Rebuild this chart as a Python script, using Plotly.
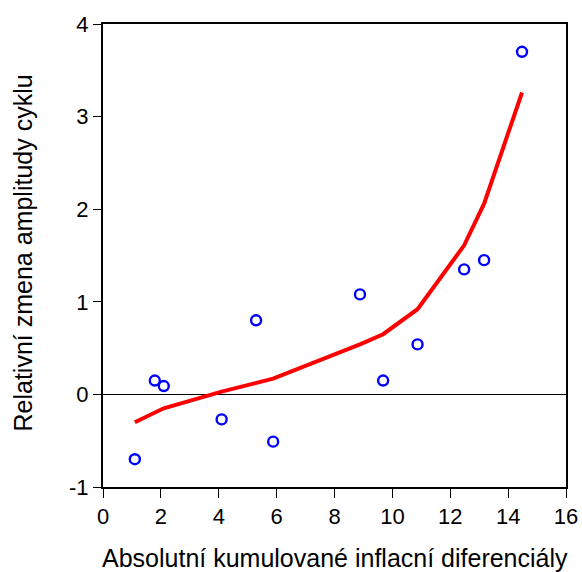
import plotly.graph_objects as go

# Observed data: cumulative absolute inflation differential vs. relative change in cycle amplitude
x_obs = [1.10, 1.79, 2.10, 4.10, 5.29, 5.88, 8.88, 9.68, 10.87, 12.48, 13.17, 14.48]
y_obs = [-0.70, 0.15, 0.09, -0.27, 0.80, -0.51, 1.08, 0.15, 0.54, 1.35, 1.45, 3.70]

# Fitted curve evaluated at the same x values
y_fit = [-0.30, -0.19, -0.15, 0.03, 0.12, 0.17, 0.54, 0.65, 0.92, 1.61, 2.06, 3.26]

x_ticks = [0, 2, 4, 6, 8, 10, 12, 14, 16]
y_ticks = [-1, 0, 1, 2, 3, 4]

x_title = "Absolutní kumulované inflacní diferenciály"
y_title = "Relativní zmena amplitudy cyklu"

font_family = "Liberation Sans, Arial, sans-serif"

fig = go.Figure()
fig.add_trace(go.Scatter(
    x=x_obs, y=y_fit, mode="lines",
    line=dict(color="#ff0000", width=4),
    showlegend=False,
))
fig.add_trace(go.Scatter(
    x=x_obs, y=y_obs, mode="markers",
    marker=dict(symbol="circle-open", size=10, color="#0000ff",
                line=dict(width=2.4, color="#0000ff")),
    showlegend=False,
))

axis_common = dict(
    showgrid=False,
    showline=True, linecolor="black", linewidth=2, mirror=True,
    ticks="outside", tickwidth=1, tickcolor="black",
    tickfont=dict(size=22),
    automargin=False,
)

fig.update_layout(
    template="none",
    width=582, height=572,
    margin=dict(l=103, r=16, t=24, b=85),
    paper_bgcolor="white", plot_bgcolor="white",
    font=dict(family=font_family, size=22, color="black"),
    xaxis=dict(
        range=[0, 16], tickvals=x_ticks, ticktext=[str(v) for v in x_ticks],
        zeroline=False, ticklen=9, **axis_common,
    ),
    yaxis=dict(
        range=[-1, 4], tickvals=y_ticks, ticktext=[str(v) for v in y_ticks],
        zeroline=True, zerolinecolor="black", zerolinewidth=1,
        ticklen=8, **axis_common,
    ),
    annotations=[
        dict(text=x_title, xref="paper", yref="paper", x=0.5, y=0,
             xanchor="center", yanchor="middle", yshift=-71,
             showarrow=False, font=dict(size=25)),
        dict(text=y_title, xref="paper", yref="paper", x=0, y=0.5,
             xanchor="center", yanchor="middle", xshift=-81, yshift=2,
             textangle=-90, showarrow=False, font=dict(size=25)),
    ],
)

fig.write_html("out.html")
